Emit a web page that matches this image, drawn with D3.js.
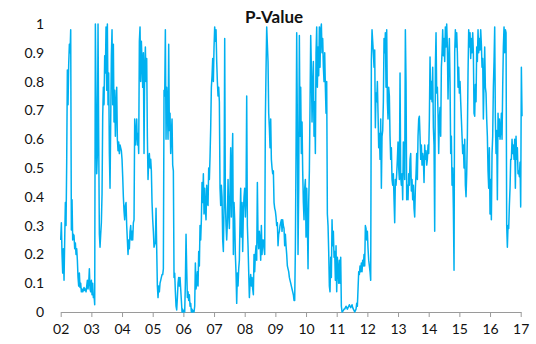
<!DOCTYPE html>
<html><head><meta charset="utf-8">
<script src="https://cdn.jsdelivr.net/npm/d3@7"></script>
<style>
html,body{margin:0;padding:0;background:#fff;}
svg{display:block;}
</style></head>
<body>
<svg id="chart" width="536" height="344"></svg>
<script>
// P-Value series, 46 evenly spaced observations per year
const y2002 = [0.25,0.31,0.2,0.135,0.22,0.11,0.25,0.38,0.3,0.52,0.84,0.72,0.86,0.93,0.9,0.98,0.285,0.39,0.25,0.27,0.265,0.22,0.24,0.2,0.22,0.18,0.12,0.09,0.135,0.085,0.1,0.07,0.08,0.07,0.075,0.085,0.075,0.08,0.07,0.09,0.11,0.08,0.1,0.15,0.08,0.07];
const y2003 = [0.11,0.06,0.1,0.05,0.06,0.025,1.0,0.75,0.48,0.55,1.0,0.6,0.27,0.225,0.27,0.31,0.41,0.68,0.78,0.72,0.89,0.83,0.99,0.77,1.0,0.72,0.83,0.55,0.43,0.66,0.89,0.98,0.72,0.93,0.66,0.77,0.61,0.72,0.78,0.6,0.56,0.59,0.55,0.58,0.57,0.56];
const y2004 = [0.53,0.47,0.4,0.35,0.32,0.37,0.38,0.3,0.25,0.2,0.25,0.22,0.28,0.3,0.25,0.28,0.25,0.31,0.32,0.67,0.58,0.62,0.67,0.58,0.62,0.55,0.94,0.99,0.8,0.94,0.87,0.78,0.9,0.55,0.85,0.92,0.8,0.88,0.61,0.46,0.53,0.55,0.5,0.53,0.49,0.38];
const y2005 = [0.32,0.28,0.225,0.235,0.24,0.36,0.22,0.09,0.05,0.09,0.07,0.1,0.11,0.12,0.13,0.13,0.15,0.77,0.75,0.98,0.6,0.78,0.72,0.6,0.93,0.63,0.69,0.55,0.62,0.67,0.51,0.49,0.12,0.135,0.07,0.02,0.007,0.05,0.1,0.12,0.09,0.12,0.08,0.04,0.0,0.01];
const y2006 = [0,0.005,0,0.1,0.27,0.15,0.05,0.07,0.04,0.06,0.02,0.03,0,0.01,0,0.005,0,0.02,0.17,0.08,0.1,0.14,0.09,0.21,0.16,0.3,0.25,0.32,0.45,0.38,0.48,0.34,0.43,0.36,0.32,0.44,0.38,0.37,0.5,0.46,0.54,0.64,0.78,0.82,0.88,0.8];
const y2007 = [0.92,0.99,0.94,0.98,0.87,0.8,0.75,0.78,0.73,0.43,0.37,0.44,0.4,0.25,0.21,0.37,0.95,0.38,0.3,0.25,0.31,0.46,0.35,0.29,0.43,0.57,0.33,0.5,0.62,0.2,0.38,0.32,0.2,0.135,0.03,0.135,0.09,0.15,0.18,0.32,0.43,0.26,0.38,0.21,0.35,0.4];
const y2008 = [0.43,0.33,0.4,0.75,0.3,0.23,0.14,0.05,0.1,0.13,0.09,0.12,0.08,0.06,0.2,0.14,0.2,0.23,0.18,0.45,0.26,0.22,0.28,0.25,0.18,0.3,0.2,0.25,0.25,0.22,0.2,0.67,0.84,0.99,0.93,0.87,0.69,0.64,0.57,0.67,0.53,0.5,0.48,0.49,0.38,0.36];
const y2009 = [0.35,0.33,0.3,0.31,0.23,0.27,0.28,0.3,0.31,0.32,0.28,0.32,0.3,0.29,0.23,0.27,0.23,0.2,0.16,0.15,0.14,0.12,0.11,0.1,0.09,0.08,0.07,0.06,0.04,0.04,0.22,0.55,0.97,0.66,0.2,0.43,0.96,0.61,0.78,0.55,0.66,0.49,0.38,0.32,0.43,0.46];
const y2010 = [0.26,0.43,0.32,0.15,0.38,0.49,0.72,0.96,0.85,0.66,0.78,0.87,0.61,0.73,0.55,0.9,0.99,0.78,0.92,0.82,0.99,0.85,0.98,1.0,0.9,0.95,0.85,0.8,0.9,0.78,0.69,0.8,0.34,0.3,0.21,0.09,0.07,0.19,0.12,0.32,0.23,0.28,0.19,0.21,0.11,0.23];
const y2011 = [0.07,0.19,0.15,0.1,0.18,0.1,0.19,0.02,0,0.003,0.005,0.01,0.01,0.015,0.02,0.015,0.01,0.015,0.02,0.025,0.02,0.015,0.02,0.025,0.015,0.01,0.005,0,0.005,0.01,0.03,0.02,0.08,0.14,0.13,0.16,0.14,0.17,0.14,0.18,0.16,0.2,0.16,0.3,0.29,0.25];
const y2012 = [0.28,0.22,0.18,0.16,0.14,0.11,0.875,0.98,0.94,0.9,0.85,0.91,0.64,0.76,0.73,0.8,0.69,0.57,0.62,0.53,0.67,0.43,0.61,0.63,0.73,0.95,0.9,0.97,0.78,0.98,0.73,0.67,0.78,0.75,0.61,0.53,0.57,0.46,0.44,0.48,0.39,0.31,0.46,0.44,0.48,0.53];
const y2013 = [0.59,0.5,0.46,0.83,0.47,0.44,0.48,0.39,0.59,0.53,0.46,0.98,0.8,0.39,0.44,0.39,0.48,0.44,0.53,0.55,0.42,0.46,0.39,0.44,0.36,0.33,0.43,0.48,0.55,0.46,0.61,0.67,0.68,0.61,0.53,0.58,0.51,0.55,0.53,0.45,0.58,0.53,0.56,0.51,0.53,0.58];
const y2014 = [0.55,0.67,0.885,0.74,0.8,0.73,0.85,0.64,0.58,0.28,0.85,0.97,0.76,0.78,0.69,0.55,0.67,0.71,0.61,0.85,0.9,0.98,0.89,0.95,0.87,0.99,0.92,1.0,0.92,0.74,0.87,0.95,0.8,0.55,0.61,0.44,0.5,0.36,0.145,0.9,0.98,0.92,0.97,0.9,0.78,0.85];
const y2015 = [0.76,0.8,0.73,0.67,0.61,0.55,0.58,0.5,0.6,0.44,0.4,0.48,0.61,0.83,0.98,0.92,0.97,0.88,0.95,0.9,0.97,0.9,0.69,0.68,0.79,0.73,0.92,0.87,0.98,0.9,0.95,0.91,0.98,0.93,0.85,0.88,0.67,0.8,0.92,0.78,0.76,0.67,0.61,0.49,0.43,0.57];
const y2016 = [0.34,0.46,0.32,0.55,0.61,0.78,0.87,0.99,0.67,0.55,0.63,0.39,0.69,0.61,0.67,0.6,0.63,0.69,0.6,0.78,0.92,0.99,0.9,0.98,0.97,0.3,0.225,0.3,0.29,0.37,0.43,0.53,0.53,0.6,0.55,0.58,0.53,0.6,0.43,0.61,0.53,0.57,0.48,0.49,0.47,0.52];
const y2017 = [0.365,0.85,0.68];

const years = [2002,2003,2004,2005,2006,2007,2008,2009,2010,2011,2012,2013,2014,2015,2016,2017];
const seriesByYear = [y2002,y2003,y2004,y2005,y2006,y2007,y2008,y2009,y2010,y2011,y2012,y2013,y2014,y2015,y2016,y2017];
const obsPerYear = 46;
const xTickLabels = ["02","03","04","05","06","07","08","09","10","11","12","13","14","15","16","17"];
const yTicks = [0,0.1,0.2,0.3,0.4,0.5,0.6,0.7,0.8,0.9,1];
const title = "P-Value";

const data = [];
years.forEach((yr, j) => {
  seriesByYear[j].forEach((v, k) => data.push({t: yr + k / obsPerYear, v}));
});

const svg = d3.select("#chart");
const x = d3.scaleLinear().domain([2002, 2017]).range([60.7, 520.7]);
const y = d3.scaleLinear().domain([0, 1]).range([312, 24]);
const font = "Lato, 'Open Sans', sans-serif";

// x axis
const xAxis = svg.append("g").attr("transform", "translate(0,312)")
  .call(d3.axisBottom(x).tickValues(years).tickFormat((d, i) => xTickLabels[i]).tickSizeInner(5).tickSizeOuter(0).tickPadding(7));
xAxis.select(".domain").attr("stroke", "#9a9a9a");
xAxis.selectAll(".tick line").attr("stroke", "#9a9a9a");
xAxis.selectAll("text").attr("font-family", font).attr("font-size", 14).attr("fill", "#111");

// y axis (labels only)
const yAxis = svg.append("g").attr("transform", "translate(44,0)")
  .call(d3.axisLeft(y).tickValues(yTicks).tickFormat(d3.format("~g")).tickSize(0).tickPadding(0));
yAxis.select(".domain").remove();
yAxis.selectAll("text").attr("font-family", font).attr("font-size", 14).attr("fill", "#111");

// line
const line = d3.line().x(d => x(d.t)).y(d => y(d.v));
svg.append("path").datum(data)
  .attr("fill", "none").attr("stroke", "#00B0F0").attr("stroke-width", 1.5)
  .attr("stroke-linejoin", "round").attr("d", line);

// title
svg.append("text").attr("x", 274).attr("y", 23).attr("text-anchor", "middle")
  .attr("font-family", font).attr("font-weight", "bold").attr("font-size", 17).attr("fill", "#111")
  .text(title);
</script>
</body></html>
